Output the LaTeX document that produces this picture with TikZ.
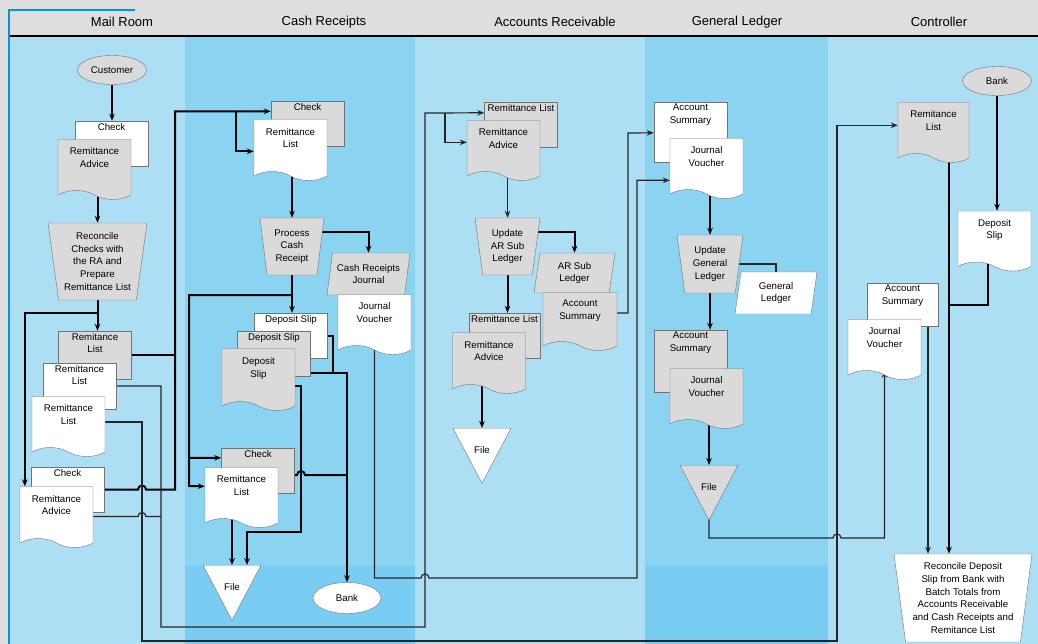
\documentclass[tikz,border=0pt]{standalone}
\usepackage{fontspec}
\setmainfont{Liberation Sans}
\usetikzlibrary{shapes.geometric,shapes.symbols,calc,arrows.meta}
\pgfdeclarelayer{lanes}
\pgfdeclarelayer{wires}
\pgfsetlayers{lanes,wires,main}
\definecolor{laneA}{RGB}{172,222,244}
\definecolor{laneB}{RGB}{138,212,242}
\definecolor{laneC}{RGB}{122,205,242}
\definecolor{docgrey}{RGB}{218,218,218}
\definecolor{hdrgrey}{RGB}{222,222,222}
\definecolor{rule}{RGB}{0,150,215}

\tikzset{
  txt/.style={font=\fontsize{9.7}{12.8}\selectfont, align=center},
  head/.style={font=\fontsize{13}{15}\selectfont},
  docu/.style={txt, shape=tape, tape bend top=none, tape bend bottom=out and in,
    tape bend height=9pt, draw=black!55, fill=#1, minimum width=73pt,
    minimum height=60pt, inner sep=2pt, text depth=15pt, yshift=4pt},
  sheet/.style={rectangle, draw=black!55, fill=#1, minimum width=73pt,
    minimum height=45pt, inner sep=0pt},
  toptext/.style={txt, anchor=north, inner sep=2pt},
  manual/.style={txt, trapezium, shape border rotate=180, trapezium stretches body,
    draw=black!55, fill=#1, inner sep=1pt},
  store/.style={txt, trapezium, trapezium left angle=76, trapezium right angle=104,
    trapezium stretches body, draw=black!55, fill=#1, inner sep=1pt},
  file/.style={txt, isosceles triangle, shape border rotate=270,
    isosceles triangle stretches, draw=black!55, fill=#1,
    minimum width=58pt, minimum height=55pt, inner sep=0pt, text height=18pt},
  term/.style={txt, ellipse, draw=black!55, fill=#1, minimum width=69pt,
    minimum height=29pt, inner sep=0pt},
  flow/.style={line width=2pt},
  link/.style={line width=1.2pt, draw=black!85},
}

\begin{document}
\begin{tikzpicture}[x=1pt, y=-1pt, >={Stealth[length=7pt,width=5.5pt]}]
\useasboundingbox (0,0) rectangle (1038,644);

% lanes and header
\begin{pgfonlayer}{lanes}
  \fill[hdrgrey] (0,0) rectangle (1038,644);
  \fill[laneA] (10,37) rectangle (185,644);
  \fill[laneB] (185,37) rectangle (415,644);
  \fill[laneA] (415,37) rectangle (645,644);
  \fill[laneB] (645,37) rectangle (828,644);
  \fill[laneA] (828,37) rectangle (1038,644);
  \fill[laneC] (185,566) rectangle (415,644);
  \fill[laneC] (645,566) rectangle (828,644);
  \draw[line width=2pt] (10,36) -- (1038,36);
  \draw[rule, line width=1.5pt] (135,10) -- (9,10) -- (9,644);
\end{pgfonlayer}
\node[head] (hmail) at (122,22) {Mail Room};
\node[head] (hcash) at (324,22) {Cash Receipts};
\node[head] (har)   at (555,22) {Accounts Receivable};
\node[head] (hgl)   at (737,22) {General Ledger};
\node[head] (hctl)  at (939,22) {Controller};

% mail room
\node[term=docgrey] (cust) at (112,70) {Customer};
\node[sheet=white, label={[toptext]north:Check}] (mchk) at (111.5,143.5) {};
\node[docu=docgrey] (mra) at (94.5,169) {Remittance\\Advice};
\node[manual=docgrey, trapezium angle=80, minimum width=99pt, minimum height=77pt]
  (mrec) at (97.5,261.5) {Reconcile\\Checks with\\the RA and\\Prepare\\Remittance List};
\node[sheet=docgrey, minimum height=48pt, label={[toptext]north:Remitance\\List}]
  (mrl1) at (95,355) {};
\node[sheet=white, minimum height=46pt, label={[toptext]north:Remittance\\List}]
  (mrl2) at (79.5,386) {};
\node[docu=white] (mrl3) at (68.5,426) {Remittance\\List};
\node[sheet=white, label={[toptext]north:Check}] (mchk2) at (67.5,489.5) {};
\node[docu=white, minimum height=61pt] (mra2) at (56.5,516.5) {Remittance\\Advice};

% cash receipts
\node[sheet=docgrey, label={[toptext]north:Check}] (cchk) at (307.5,124) {};
\node[docu=white, minimum height=61pt] (crl) at (290.5,149.5) {Remittance\\List};
\node[manual=docgrey, trapezium angle=79, minimum width=64pt, minimum height=57pt]
  (cproc) at (292,246.5) {Process\\Cash\\Receipt};
\node[store=docgrey, minimum width=83pt, minimum height=42pt]
  (ccrj) at (368.5,274) {Cash Receipts\\Journal};
\node[docu=white] (cjv) at (374.5,324) {Journal\\Voucher};
\node[sheet=white, label={[toptext]north:Deposit Slip}] (cds1) at (291,335.5) {};
\node[sheet=docgrey, label={[toptext]north:Deposit Slip}] (cds2) at (274,353.5) {};
\node[docu=docgrey, minimum height=62pt] (cds3) at (258.5,379) {Deposit\\Slip};
\node[sheet=docgrey, label={[toptext]north:Check}] (cchk2) at (258,470.5) {};
\node[docu=white] (crl2) at (241.5,497) {Remittance\\List};
\node[file=white, anchor=north] (cfile) at (232,565) {File};
\node[term=white, minimum width=68pt, minimum height=31pt] (cbank) at (347,598) {Bank};

% accounts receivable
\node[sheet=docgrey, label={[toptext]north:Remittance List}] (arl) at (521,124.5) {};
\node[docu=docgrey] (ara) at (503.5,150) {Remittance\\Advice};
\node[manual=docgrey, trapezium angle=78, minimum width=65pt, minimum height=57pt]
  (aupd) at (507.5,246.5) {Update\\AR Sub\\Ledger};
\node[store=docgrey, minimum width=81pt, minimum height=40pt]
  (asub) at (574.5,273) {AR Sub\\Ledger};
\node[docu=docgrey, minimum width=74pt, minimum height=58pt] (aas) at (580,321) {Account\\Summary};
\node[sheet=docgrey, minimum width=71pt, label={[toptext]north:Remittance List}]
  (arl2) at (504.5,335.5) {};
\node[docu=docgrey, minimum height=61pt] (ara2) at (489,362.5) {Remittance\\Advice};
\node[file=white, anchor=north] (afile) at (482,428) {File};

% general ledger
\node[sheet=white, minimum height=60pt, label={[toptext]north:Account\\Summary}]
  (gas) at (690.5,132) {};
\node[docu=white] (gjv) at (706.5,168) {Journal\\Voucher};
\node[manual=docgrey, trapezium angle=78, minimum width=66pt, minimum height=58pt]
  (gupd) at (710,264) {Update\\General\\Ledger};
\node[store=white, minimum width=82pt, minimum height=42pt]
  (ggl) at (776,293) {General\\Ledger};
\node[sheet=docgrey, minimum height=62pt, label={[toptext]north:Account\\Summary}]
  (gas2) at (690.5,361) {};
\node[docu=docgrey] (gjv2) at (706.5,398) {Journal\\Voucher};
\node[file=docgrey, anchor=north] (gfile) at (709,465) {File};

% controller
\node[term=docgrey] (tbank) at (997,81) {Bank};
\node[docu=docgrey, minimum width=71pt] (trl) at (933.5,132) {Remitance\\List};
\node[docu=white] (tds) at (994.5,240.5) {Deposit\\Slip};
\node[sheet=white, minimum width=71pt, minimum height=43pt,
  label={[toptext]north:Account\\Summary}] (tas) at (902.5,304.5) {};
\node[docu=white] (tjv) at (884.5,349) {Journal\\Voucher};
\node[manual=white, trapezium angle=81, minimum width=138pt, minimum height=88pt]
  (trec) at (963,598) {Reconcile Deposit\\Slip from Bank with\\Batch Totals from\\Accounts Receivable\\and Cash Receipts and\\Remitance List};

\coordinate (rlx) at ($(trl.center)+(15.5,0)$);
\coordinate (asx) at ($(tas.center)+(25.5,0)$);

% connectors
\begin{pgfonlayer}{wires}
  \draw[flow,->] (cust.south) -- (cust.south |- mchk.north);
  \draw[flow,->] (mrec.north |- mra.center) -- (mrec.north);
  \draw[flow,->] (mrec.center) -- (mrec.center |- mrl1.north);
  \draw[flow,->] ($(mrec.center)+(0,51.5)$) -| ($(mra2.north west)+(5,0)$);
  \draw[flow] (mrl1.center) -- (175,355);
  \draw[flow,->] (mchk2.center) -- (138,489.5) arc[start angle=180, end angle=360, radius=4]
    -- (175,489.5) |- ($(cchk.north west)+(0,10)$);
  \draw[flow,->] (236,111) |- ($(crl.north west)+(0,32)$);
  \draw[link,->] (mrl2.center) -| (161,627) -| (425,113) -- ($(arl.north west)+(0,11)$);
  \draw[link,->] (445,113) |- ($(ara.north west)+(0,22)$);
  \draw[link] ($(mra2.center)+(0,4)$) -- (138,516.5)
    arc[start angle=180, end angle=360, radius=4] -- (161,516.5);
  \draw[link,->] (mrl3.center) -| (142,641) -- (837,641)
    |- ($(trl.north west)+(0,23)$);

  \draw[flow,->] (cproc.north |- crl.center) -- (cproc.north);
  \draw[flow,->] ($(cproc.center)+(0,-14.5)$) -| (ccrj.north);
  \draw[flow,->] (cproc.center) -- (cproc.center |- cds1.north);
  \draw[flow,->] ($(cproc.center)+(0,48.5)$) -| (189,486) -- ($(crl2.north west)+(0,19)$);
  \draw[flow,->] (189,458) -- ($(cchk2.north west)+(0,10)$);
  \draw[flow] (cds1.center) -| (333,373);
  \draw[flow,->] ($(cds2.south east)+(0,-3)$) -| (cbank.north);
  \draw[flow,->] ($(cds3.center)+(0,11)$) -| (301,532) -| ($(cfile.north)+(15,0)$);
  \draw[flow] ($(cchk2.center)+(0,4.5)$) -- (297,475)
    arc[start angle=180, end angle=360, radius=4] -- (347,475);
  \draw[flow,->] (cfile.north |- crl2.center) -- (cfile.north);
  \draw[link,->] (cjv.center) |- (421,578) arc[start angle=180, end angle=360, radius=4]
    -- (637,578) |- ($(gjv.north west)+(0,42)$);

  \draw[link,->] (aupd.north |- ara.center) -- (aupd.north);
  \draw[flow,->] ($(aupd.center)+(0,-14.5)$) -| (asub.north);
  \draw[flow,->] (aupd.center) -- (aupd.center |- arl2.north);
  \draw[flow,->] (afile.north |- ara2.center) -- (afile.north);
  \draw[link,->] ($(aas.center)+(0,-4)$) -| (628,133) -- ($(gas.north west)+(0,31)$);

  \draw[flow,->] (gupd.north |- gjv.center) -- (gupd.north);
  \draw[link] (gupd.center) -| (ggl.north);
  \draw[flow,->] (gupd.center) -- (gupd.center |- gas2.north);
  \draw[flow,->] (gfile.north |- gjv2.center) -- (gfile.north);
  \draw[link,->] (gfile.center) |- (833,538) arc[start angle=180, end angle=360, radius=4]
    -| (tjv.south);

  \draw[flow,->] (tbank.south) -- (tbank.south |- tds.north);
  \draw[flow,->] (rlx) -- (rlx |- trec.north);
  \draw[flow] ($(tds.center)+(-7,0)$) |- (949,305);
  \draw[link,->] (asx) -- (asx |- trec.north);
\end{pgfonlayer}
\end{tikzpicture}
\end{document}
